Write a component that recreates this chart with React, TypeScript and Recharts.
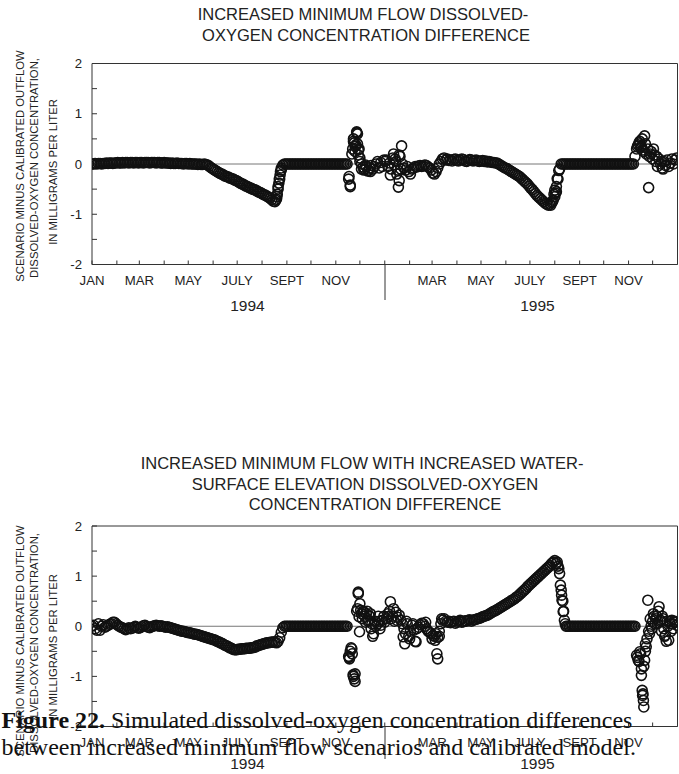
import React from 'react';
import { ScatterChart, Scatter, XAxis, YAxis, ReferenceLine } from 'recharts';

const SANS = "'Liberation Sans', Arial, Helvetica, sans-serif";
const SERIF = "'Liberation Serif', 'Times New Roman', serif";

// day-of-period ticks (Jan 1994 .. Jan 1996)
const monthTicks = [0, 31, 59, 90, 120, 151, 181, 212, 243, 273, 304, 334, 365, 396, 424, 455, 485, 516, 546, 577, 608, 638, 669, 699, 730];
const monthLabels = ['JAN', '', 'MAR', '', 'MAY', '', 'JULY', '', 'SEPT', '', 'NOV', '', '', '', 'MAR', '', 'MAY', '', 'JULY', '', 'SEPT', '', 'NOV', '', ''];
const yTicks = [-2, -1.5, -1, -0.5, 0, 0.5, 1, 1.5, 2];
const yLabels = ['-2', '', '-1', '', '0', '', '1', '', '2'];
const yearLabels = ['1994', '1995'];

// ---------- top panel: values every 2 days ----------
const top1994 = [
  0, 0, 0.01, 0, 0.01, 0.01, 0, 0.01, 0.01, 0.02,
  0.01, 0.02, 0.02, 0.01, 0.02, 0.02, 0.03, 0.02, 0.02, 0.03,
  0.02, 0.03, 0.03, 0.02, 0.03, 0.03, 0.02, 0.03, 0.03, 0.02,
  0.03, 0.03, 0.02, 0.03, 0.03, 0.03, 0.02, 0.03, 0.03, 0.03,
  0.02, 0.03, 0.03, 0.02, 0.02, 0.03, 0.02, 0.02, 0.02, 0.01,
  0.02, 0.01, 0.01, 0.02, 0.01, 0.01, 0.01, 0, 0.01, 0.01,
  0, 0.01, 0, 0, 0, 0, -0.01, 0, -0.01, -0.01,
  0,
  -0.01, -0.02, -0.04, -0.07, -0.09, -0.11, -0.13, -0.15, -0.17,
  -0.19, -0.2, -0.22, -0.24, -0.25, -0.26, -0.28, -0.29, -0.3, -0.32,
  -0.33, -0.35, -0.37, -0.39, -0.4, -0.42, -0.44, -0.45, -0.47, -0.48,
  -0.5, -0.51, -0.52, -0.54, -0.56, -0.57, -0.59, -0.61, -0.62, -0.64,
  -0.66, -0.68, -0.71, -0.74, -0.75, -0.7, -0.5, -0.3, -0.12, -0.02,
  0, 0, 0, 0, 0, 0, 0, 0, 0, 0,
  0, 0, 0, 0, 0, 0, 0, 0, 0, 0,
  0, 0, 0, 0, 0, 0, 0, 0, 0, 0,
  0, 0, 0, 0, 0, 0, 0, 0, 0, 0,
  -0.3, -0.42, 0.2, 0.45, 0.35, 0.62, 0.28, 0.12, 0, -0.06,
  -0.1, -0.05, -0.14, -0.08, -0.03, -0.1, -0.05, 0, 0.05, -0.08,
  0.03, -0.05, 0.08,
];

const top1995 = [
  0.05, 0.08, -0.05, 0.02, -0.1, 0.12, -0.02, 0.05, -0.12, 0.18, -0.1, 0,
  -0.08, -0.12, -0.05, -0.15, -0.2, -0.1, -0.08, -0.05, -0.06, -0.04,
  -0.03, -0.05, -0.04, -0.02, -0.03, -0.06, -0.08, -0.12, -0.18, -0.2, -0.15, -0.08,
  0, 0.05, 0.1, 0.12, 0.08, 0.1, 0.07,
  0.08, 0.06, 0.09, 0.1, 0.07, 0.06, 0.08, 0.1, 0.09, 0.06,
  0.05, 0.07, 0.09, 0.08, 0.06, 0.07, 0.08, 0.06, 0.05, 0.06,
  0.07, 0.05, 0.06, 0.04, 0.05, 0.04, 0.03, 0.03, 0.02,
  0.02, 0, -0.02, -0.04, -0.06, -0.08, -0.09, -0.11, -0.13, -0.15,
  -0.17, -0.19, -0.21, -0.23, -0.25, -0.28, -0.31, -0.34, -0.37, -0.4,
  -0.44, -0.48, -0.51, -0.55, -0.59, -0.63, -0.66, -0.69, -0.72, -0.75,
  -0.78, -0.8, -0.82,
  -0.8, -0.77, -0.72, -0.65, -0.55, -0.3, -0.1,
  0, 0, 0, 0, 0, 0, 0, 0, 0, 0,
  0, 0, 0, 0, 0, 0, 0, 0, 0, 0,
  0, 0, 0, 0, 0, 0, 0, 0, 0, 0,
  0, 0, 0, 0, 0, 0, 0, 0, 0, 0,
  0, 0, 0, 0, 0, 0,
  0.15, 0.3, 0.38, 0.45, 0.35, 0.28, 0.56, 0.2, 0.3, 0.15,
  0.25, 0.1, 0.18, 0.05, -0.05, 0.1, 0, -0.08, 0.05, -0.03,
  0.08, -0.05, 0.02, 0.1, 0, 0.08, 0.12,
];

const topExtra: [number, number][] = [
  [229, -0.72], [230.5, -0.65], [231, -0.6], [232, -0.45], [233, -0.38], [233.5, -0.3], [234.5, -0.22], [235, -0.15], [236, -0.08],
  [320.5, -0.25], [322, -0.45], [325, 0.3], [326, 0.5], [327, 0.42], [328, 0.25], [329, 0.38], [330, 0.64], [331, 0.6], [331, 0.4],
  [332, 0.18], [333, 0.3], [334, 0.05], [336, -0.1], [339, -0.12], [341, -0.02], [345, -0.12], [347, -0.15],
  [372, -0.22], [376, 0.2], [378, 0.1], [380, -0.2], [382, -0.46], [383, -0.33], [384, 0.15], [386, 0.36],
  [572, -0.82], [574, -0.75], [576, -0.6], [577, -0.52], [578, -0.58], [579, -0.45], [580, -0.29], [582, -0.13],
  [680, 0.35], [682, 0.42], [684, 0.32], [686, 0.5], [688, 0.25], [690, 0.4], [694, -0.47], [696, 0.2], [700, 0.3],
  [704, 0.15], [710, 0.05], [712, -0.1],
];

// ---------- bottom panel: values every 2 days ----------
const bottom1994 = [
  0, 0.02, -0.05, -0.08, 0.05, -0.08, 0, 0.03, -0.02, 0,
  0.02, 0.04, 0.05, 0.08, 0.08, 0.05, 0.02, 0, -0.02, -0.03,
  -0.05, -0.07, -0.05, -0.03, -0.05, -0.04, -0.02, 0, -0.02, -0.04,
  -0.03, -0.01, 0.01, 0.02, 0, -0.02, -0.03, -0.01, 0, 0.01,
  0.02, 0.01, 0, 0.01, 0, -0.01, -0.02,
  -0.01, -0.02, -0.03, -0.04, -0.05, -0.06, -0.07, -0.08, -0.09, -0.1,
  -0.1, -0.11, -0.12, -0.13, -0.13, -0.14, -0.15, -0.16, -0.16, -0.17,
  -0.18, -0.19, -0.2, -0.21, -0.22, -0.23, -0.24, -0.25, -0.26, -0.27,
  -0.28, -0.3, -0.31, -0.33, -0.34, -0.36, -0.38, -0.39, -0.41, -0.43,
  -0.44, -0.46, -0.47, -0.47, -0.46, -0.46, -0.45, -0.45, -0.45, -0.44,
  -0.44, -0.44, -0.43, -0.43, -0.42, -0.41, -0.39, -0.38, -0.37, -0.36,
  -0.35, -0.34, -0.33, -0.33, -0.32, -0.32, -0.31, -0.32, -0.33, -0.3,
  -0.23, -0.12, -0.03,
  0, 0, 0, 0, 0, 0, 0, 0, 0, 0,
  0, 0, 0, 0, 0, 0, 0, 0, 0, 0,
  0, 0, 0, 0, 0, 0, 0, 0, 0, 0,
  0, 0, 0, 0, 0, 0, 0, 0, 0,
  0, -0.6, -0.5, -0.45, -1.0, -1.1, 0.3, 0.68, 0.45, 0.25,
  0.3, 0.2, 0.25, 0.1, 0.2, -0.05, -0.2, 0.05, 0, 0.05,
  0.1, 0.02, 0.12, 0.2,
];

const bottom1995 = [
  0.08, 0.15, 0.25, 0.3, 0.15, 0.2, 0.1, 0.28, 0.18, 0.22,
  0.12, 0.05, -0.05, -0.15, 0.05, -0.2, -0.1, 0.02, -0.08, -0.3,
  -0.05, -0.02, 0.03, 0.06, 0.05, 0, -0.05, -0.1, -0.12, -0.15,
  -0.18, -0.2, -0.15, -0.22, -0.1, 0.05, 0.12, 0.15, 0.1,
  0.08, 0.1, 0.07, 0.09, 0.1, 0.06, 0.08, 0.1, 0.12, 0.08,
  0.09, 0.11, 0.1, 0.12, 0.13, 0.1, 0.12, 0.13, 0.14, 0.15,
  0.16, 0.17, 0.19, 0.2,
  0.21, 0.22, 0.24, 0.26, 0.28, 0.3, 0.31, 0.33, 0.35, 0.37,
  0.39, 0.41, 0.43, 0.45, 0.47, 0.49, 0.51, 0.53, 0.55, 0.58,
  0.6, 0.63, 0.66, 0.69, 0.72, 0.75, 0.79, 0.82, 0.85, 0.88,
  0.91, 0.94, 0.97, 1.0, 1.03, 1.06, 1.09, 1.12, 1.15, 1.18,
  1.21, 1.25, 1.28, 1.31, 1.25,
  1.2, 1.05, 0.72, 0.5, 0.12,
  0, 0, 0, 0, 0, 0, 0, 0, 0, 0,
  0, 0, 0, 0, 0, 0, 0, 0, 0, 0,
  0, 0, 0, 0, 0, 0, 0, 0, 0, 0,
  0, 0, 0, 0, 0, 0, 0, 0, 0, 0,
  0, 0, 0, 0,
  -0.58, -0.68, -0.51, -0.85, -1.35, -0.68, -0.41, 0.52, -0.15, 0,
  0.1, 0.2, 0.15, 0.05, 0.39, 0.12, 0.2, -0.05, -0.18, 0.1,
  -0.28, 0.05, 0.12, -0.05, 0.08, 0.02,
];

const bottomExtra: [number, number][] = [
  [320.5, -0.62], [321, -0.65], [323, -0.43], [324.5, -0.55], [325.5, -0.97], [327, -1.05], [328, -0.95],
  [331, 0.35], [332, 0.65], [333, 0.19], [333.5, -0.11], [335, 0.32], [337, 0.15], [339, 0.28], [341, 0.08],
  [343, 0.3], [345, 0.12], [347, 0.25], [349, 0.05], [351, -0.15], [353, 0.1], [357, 0.2], [359, -0.05],
  [372, 0.49], [370, 0.2], [376, 0.35], [380, 0.12], [388, -0.21], [390, -0.35], [392, 0.1], [396, -0.25],
  [404, -0.31], [400, 0.05], [416, 0.08], [424, -0.25], [428, -0.28], [430, -0.55], [431, -0.65], [433, -0.2], [436, 0.15],
  [580, 1.28], [582, 1.15], [584, 0.82], [585.5, 0.62], [586, 0.52], [587.5, 0.29], [588, 0.3], [590, 0.05],
  [680, -0.62], [682, -0.7], [684, -0.55], [685, -0.98], [686, -1.28], [686.5, -1.38], [687.5, -1.48], [688, -1.61],
  [688, -0.8], [690, -0.5], [690, -0.35], [692, -0.25], [694, -0.1], [696, 0.15], [698, -0.05], [700, 0.25],
  [702, 0.05], [704, 0.2], [706, 0.3], [708, 0.1], [710, -0.1], [712, 0.15], [714, -0.2], [716, -0.3],
  [718, 0], [720, 0.1], [722, -0.1], [724, 0.05], [726, 0.1],
];

function buildSeries(y94: number[], y95: number[], extra: [number, number][]) {
  const pts: { day: number; value: number }[] = [];
  y94.forEach((v, i) => pts.push({ day: 2 * i, value: v }));
  y95.forEach((v, i) => pts.push({ day: 365 + 2 * i, value: v }));
  extra.forEach(([d, v]) => pts.push({ day: d, value: v }));
  return pts;
}

const topData = buildSeries(top1994, top1995, topExtra);
const bottomData = buildSeries(bottom1994, bottom1995, bottomExtra);

const circleShape = (props: any) => {
  const { cx, cy } = props;
  if (cx == null || cy == null) return <g />;
  return <circle cx={cx} cy={cy} r={5} fill="none" stroke="#111" strokeWidth={1.6} />;
};

const AXIS = '#333';

function Panel({ data, top, height, marginTop, marginBottom }: { data: any[]; top: number; height: number; marginTop: number; marginBottom: number }) {
  return (
    <div style={{ position: 'absolute', left: 0, top }}>
      <ScatterChart width={679} height={height} margin={{ top: marginTop, right: 0.5, bottom: marginBottom, left: 0 }}>
        <XAxis
          xAxisId="b"
          dataKey="day"
          type="number"
          domain={[0, 730]}
          ticks={monthTicks}
          interval={0}
          tickFormatter={(v: any, i: number) => monthLabels[i]}
          orientation="bottom"
          height={30}
          tickSize={-4}
          tickMargin={15}
          stroke={AXIS}
          tick={{ fill: '#222', fontSize: 13.2, fontFamily: SANS }}
          allowDataOverflow
        />
        <XAxis
          xAxisId="t"
          type="number"
          domain={[0, 730]}
          ticks={monthTicks}
          interval={0}
          orientation="top"
          height={1}
          tick={false}
          tickSize={-4}
          stroke={AXIS}
          allowDataOverflow
        />
        <YAxis
          yAxisId="l"
          dataKey="value"
          type="number"
          domain={[-2, 2]}
          ticks={yTicks}
          interval={0}
          tickFormatter={(v: any, i: number) => yLabels[i]}
          width={92}
          tickSize={-5}
          tickMargin={15}
          stroke={AXIS}
          tick={{ fill: '#222', fontSize: 13.2, fontFamily: SANS }}
          allowDataOverflow
        />
        <YAxis
          yAxisId="r"
          orientation="right"
          type="number"
          domain={[-2, 2]}
          ticks={yTicks}
          interval={0}
          width={1}
          tick={false}
          tickSize={-5}
          stroke={AXIS}
          allowDataOverflow
        />
        <ReferenceLine xAxisId="b" yAxisId="l" y={0} stroke="#777" strokeWidth={1} />
        <Scatter xAxisId="b" yAxisId="l" data={data} shape={circleShape} isAnimationActive={false} />
      </ScatterChart>
    </div>
  );
}

export default function App() {
  return (
    <div style={{ position: 'absolute', left: 0, top: 0, width: 679, height: 774, background: '#fff', overflow: 'hidden' }}>
      <Panel data={topData} top={0} height={330} marginTop={62.5} marginBottom={35.5} />
      <Panel data={bottomData} top={440} height={334} marginTop={85} marginBottom={17.5} />
      <svg width={679} height={774} style={{ position: 'absolute', left: 0, top: 0, pointerEvents: 'none' }}>
        <g fontFamily={SANS} fill="#222">
          <text x={363} y={20} fontSize={16.5} textAnchor="middle">INCREASED MINIMUM FLOW DISSOLVED-</text>
          <text x={366} y={41} fontSize={16.5} textAnchor="middle">OXYGEN CONCENTRATION DIFFERENCE</text>
          <text x={362} y={469} fontSize={16.5} textAnchor="middle">INCREASED MINIMUM FLOW WITH INCREASED WATER-</text>
          <text x={365} y={490} fontSize={16.5} textAnchor="middle">SURFACE ELEVATION DISSOLVED-OXYGEN</text>
          <text x={375} y={509.5} fontSize={16.5} textAnchor="middle">CONCENTRATION DIFFERENCE</text>

          <text transform="translate(24,166) rotate(-90)" fontSize={11.3} textAnchor="middle">SCENARIO MINUS CALIBRATED OUTFLOW</text>
          <text transform="translate(38,168) rotate(-90)" fontSize={11.3} textAnchor="middle">DISSOLVED-OXYGEN CONCENTRATION,</text>
          <text transform="translate(57,172) rotate(-90)" fontSize={11.3} textAnchor="middle">IN MILLIGRAMS PER LITER</text>
          <text transform="translate(24,641) rotate(-90)" fontSize={11.3} textAnchor="middle">SCENARIO MINUS CALIBRATED OUTFLOW</text>
          <text transform="translate(38,643) rotate(-90)" fontSize={11.3} textAnchor="middle">DISSOLVED-OXYGEN CONCENTRATION,</text>
          <text transform="translate(57,647) rotate(-90)" fontSize={11.3} textAnchor="middle">IN MILLIGRAMS PER LITER</text>

          <text x={247.5} y={311} fontSize={15.5} textAnchor="middle">{yearLabels[0]}</text>
          <text x={537.5} y={311} fontSize={15.5} textAnchor="middle">{yearLabels[1]}</text>
          <text x={247.5} y={769} fontSize={15.5} textAnchor="middle">{yearLabels[0]}</text>
          <text x={537.5} y={769} fontSize={15.5} textAnchor="middle">{yearLabels[1]}</text>
        </g>
        <line x1={385} y1={264.5} x2={385} y2={300} stroke={AXIS} strokeWidth={1} />
        <line x1={385} y1={726.5} x2={385} y2={759} stroke={AXIS} strokeWidth={1} />
        <g fontFamily={SERIF} fontSize={24} fill="#111">
          <text x={1.5} y={728}>
            <tspan fontWeight="bold">Figure 22.</tspan>
            {' Simulated dissolved-oxygen concentration differences'}
          </text>
          <text x={1.5} y={755}>between increased minimum flow scenarios and calibrated model.</text>
        </g>
      </svg>
    </div>
  );
}
